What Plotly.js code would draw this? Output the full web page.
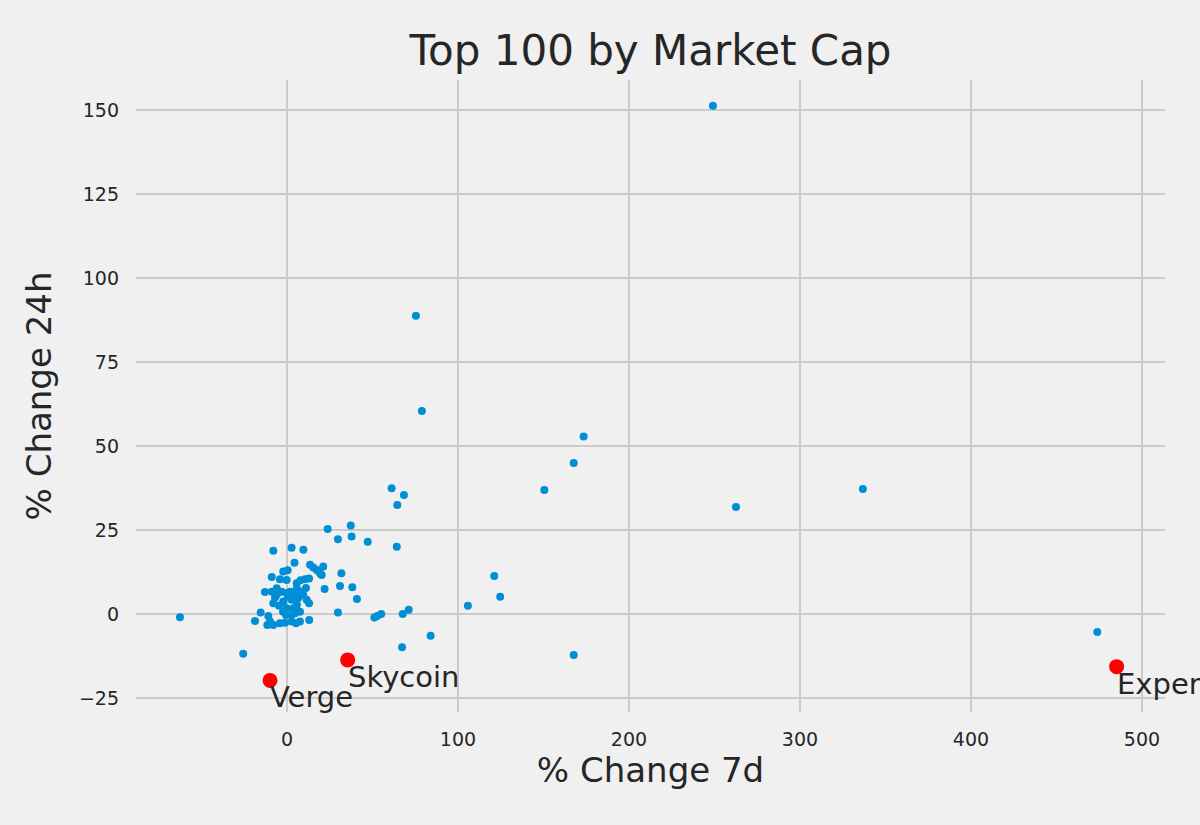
<!DOCTYPE html>
<html>
<head>
<meta charset="utf-8">
<script src="https://cdn.plot.ly/plotly-3.0.1.min.js"></script>
<style>html,body{margin:0;padding:0;background:#f0f0f0;}</style>
</head>
<body>
<div id="chart" style="width:1200px;height:825px;"></div>
<script>
// % change over 7 days (x) and 24 hours (y) for the top-100 coins
const change7d = [
  -62.6, -25.6, 249.1, 75.4, 78.9, 262.6, 336.8, 473.9, 173.5, 167.7,
  150.5, 121.2, 124.7, 105.8, 167.7, 61.2, 68.4, 64.5, 23.8, 37.3,
  29.8, 37.8, 47.2, 64.2, 31.8, 22.0, 31.0, 38.2, 40.9, 29.8,
  51.1, 52.8, 55.1, 67.7, 71.2, 84.0, 67.3, 13.0, -8.0, 2.7,
  9.6, 4.4, 13.5, 15.4, 17.4, 19.3, 21.2, 20.3, -8.9, -2.2,
  0.4, -4.1, -0.2, 5.7, 7.9, 10.5, 12.9, 5.7, -12.9, -6.0,
  -3.1, -0.2, 4.7, 8.6, 9.5, 11.5, 12.9, -8.0, -2.2, 2.7,
  6.6, -0.2, 3.7, 4.7, -15.4, -18.7, -10.9, -9.9, -8.0, -11.5,
  -4.1, -1.2, 2.7, 5.3, 7.6, -0.6, 2.7, -8.9, -6.0, 1.8,
  5.8, -7.0, 0.6, -4.7, -2.3, 7.6, 11.1
];
const change24h = [
  -1.0, -11.9, 151.2, 88.7, 60.4, 31.8, 37.2, -5.4, 52.8, 44.9,
  36.9, 11.3, 5.1, 2.4, -12.2, 37.4, 35.4, 32.4, 25.3, 26.3,
  22.2, 23.0, 21.5, 20.0, 12.1, 7.4, 8.3, 7.9, 4.4, 0.4,
  -1.1, -0.6, 0.0, 0.0, 1.2, -6.5, -9.9, -1.8, 18.8, 19.7,
  19.1, 15.2, 14.6, 13.8, 13.1, 12.1, 14.1, 11.6, 11.0, 12.6,
  13.0, 10.3, 10.1, 9.1, 10.0, 10.3, 10.5, 7.6, 6.5, 7.6,
  6.6, 6.2, 6.2, 6.6, 5.7, 4.2, 3.2, 3.2, 3.7, 4.2,
  4.7, 1.7, 1.7, 0.2, 0.4, -2.1, -0.6, -2.3, -3.3, -3.3,
  -2.8, -2.6, -2.3, -2.8, -2.3, -0.3, -0.3, 6.6, 5.7, 6.6,
  2.7, 4.8, 5.1, 2.4, 0.6, 0.6, 7.7
];
// highlighted coins
const highlightNames = ["Verge", "Skycoin", "Experty"];
const highlight7d = [-9.9, 35.5, 485.2];
const highlight24h = [-19.8, -13.7, -15.7];

const font = "DejaVu Sans, Liberation Sans, sans-serif";
const textColor = "#262626";
const gridColor = "#cbcbcb";

const traces = [
  {
    type: "scatter", mode: "markers",
    x: change7d, y: change24h,
    marker: {color: "#008fd5", size: 8},
    hoverinfo: "x+y", showlegend: false
  },
  {
    type: "scatter", mode: "markers",
    x: highlight7d, y: highlight24h,
    marker: {color: "#ff0000", size: 15},
    text: highlightNames, hoverinfo: "text", showlegend: false
  }
];

const annotations = highlightNames.map((name, i) => ({
  x: highlight7d[i], y: highlight24h[i], xref: "x", yref: "y",
  text: name, showarrow: false, xanchor: "left", yanchor: "top",
  xshift: -2, yshift: 2,
  font: {family: font, size: 29, color: textColor}
}));

const layout = {
  width: 1200, height: 825,
  paper_bgcolor: "#f0f0f0", plot_bgcolor: "#f0f0f0",
  margin: {l: 136, r: 35, t: 80, b: 113},
  font: {family: font, color: textColor},
  title: {
    text: "Top 100 by Market Cap",
    font: {family: font, size: 42, color: textColor},
    x: 0.5, xref: "paper", y: 1 - 50 / 825, yref: "container", yanchor: "middle"
  },
  xaxis: {
    range: [-88.3, 513.5],
    tickvals: [0, 100, 200, 300, 400, 500],
    showgrid: true, gridcolor: gridColor, gridwidth: 2,
    zeroline: false, showline: false, ticks: "",
    ticklabelstandoff: 14,
    tickfont: {family: font, size: 19, color: textColor},
    title: {text: "% Change 7d", font: {family: font, size: 34, color: textColor}, standoff: 9},
    automargin: false
  },
  yaxis: {
    range: [-29.2, 158.9],
    tickvals: [-25, 0, 25, 50, 75, 100, 125, 150],
    showgrid: true, gridcolor: gridColor, gridwidth: 2,
    zeroline: false, showline: false, ticks: "",
    ticklabelstandoff: 16,
    tickfont: {family: font, size: 19, color: textColor},
    title: {text: "% Change 24h", font: {family: font, size: 34, color: textColor}, standoff: 16},
    automargin: false
  },
  annotations: annotations
};

Plotly.newPlot("chart", traces, layout, {displayModeBar: false, responsive: false});
</script>
</body>
</html>
